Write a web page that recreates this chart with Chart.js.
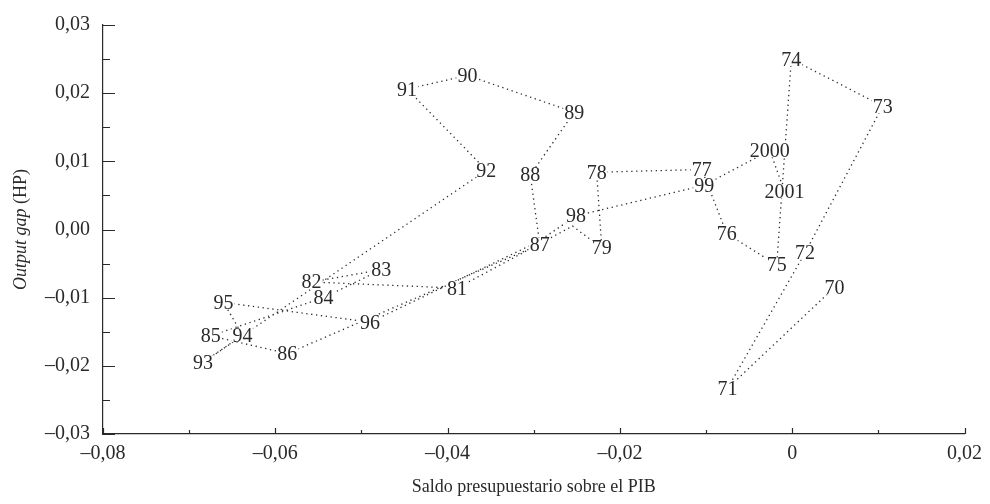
<!DOCTYPE html>
<html>
<head>
<meta charset="utf-8">
<script src="https://cdn.jsdelivr.net/npm/chart.js@4.4.0/dist/chart.umd.min.js"></script>
<style>
  html, body { margin: 0; padding: 0; background: #fff; }
  #wrap { width: 990px; height: 504px; }
</style>
</head>
<body>
<div id="wrap"><canvas id="chart" width="990" height="504"></canvas></div>
<script>
// años (80 y 97 quedan tapados por otras etiquetas en el original)
const years = ['70', '71', '72', '73', '74', '75', '76', '77', '78', '79',
               '', '81', '82', '83', '84', '85', '86', '87', '88', '89',
               '90', '91', '92', '93', '94', '95', '96', '', '98', '99',
               '2000', '2001'];
// saldo presupuestario / PIB
const saldo = [0.0049, -0.0075, 0.0015, 0.0105, -0.0001, -0.0018, -0.0076, -0.0105, -0.0227, -0.0221,
               -0.0255, -0.0389, -0.0558, -0.0477, -0.0544, -0.0675, -0.0586, -0.0293, -0.0304, -0.0253,
               -0.0377, -0.0447, -0.0355, -0.0684, -0.0638, -0.0660, -0.0490, -0.0295, -0.0251, -0.0102,
               -0.0026, -0.0009];
// output gap (HP)
const gap = [-0.0085, -0.0233, -0.0034, 0.0181, 0.0250, -0.0052, -0.0006, 0.0088, 0.0084, -0.0027,
             0.0005, -0.0086, -0.0077, -0.0059, -0.0100, -0.0156, -0.0182, -0.0022, 0.0080, 0.0172,
             0.0226, 0.0206, 0.0087, -0.0195, -0.0155, -0.0107, -0.0136, -0.0018, 0.0020, 0.0065,
             0.0116, 0.0056];

const FONT = '"Liberation Serif", "Times New Roman", serif';
const INK = '#2a2a2a';

function fmt(v, shortZero) {
    const r = Math.round(v * 1000) / 1000;
    if (r === 0 && shortZero) return '0';
    return (r < 0 ? '\u2013' : '') + Math.abs(r).toFixed(2).replace('.', ',');
}

// marcas hacia dentro de los ejes
const inwardTicks = {
    id: 'inwardTicks',
    afterDraw(chart) {
        const ctx = chart.ctx;
        const xs = chart.scales.x, ys = chart.scales.y;
        ctx.save();
        ctx.strokeStyle = INK;
        ctx.lineWidth = 1.2;
        ctx.beginPath();
        xs.ticks.forEach(t => {
            const px = Math.round(xs.getPixelForValue(t.value)) + 0.5;
            const len = Math.round(t.value * 100) % 2 === 0 ? 6 : 4;
            ctx.moveTo(px, ys.bottom);
            ctx.lineTo(px, ys.bottom - len);
        });
        ys.ticks.forEach(t => {
            const py = Math.round(ys.getPixelForValue(t.value)) + 0.5;
            const len = Math.round(t.value * 1000) % 10 === 0 ? 12 : 7;
            ctx.moveTo(xs.left, py);
            ctx.lineTo(xs.left + len, py);
        });
        ctx.stroke();
        ctx.restore();
    }
};

// etiquetas de año y títulos de ejes
const yearLabels = {
    id: 'yearLabels',
    afterDatasetsDraw(chart) {
        const ctx = chart.ctx;
        const pts = chart.getDatasetMeta(0).data;
        ctx.save();
        ctx.font = '20px ' + FONT;
        ctx.textAlign = 'center';
        ctx.textBaseline = 'alphabetic';
        ctx.fillStyle = '#fff';
        pts.forEach((p, i) => {
            if (!years[i]) return;
            const w = ctx.measureText(years[i]).width;
            ctx.fillRect(p.x - w / 2 - 1, p.y - 7, w + 2, 14);
        });
        ctx.fillStyle = INK;
        pts.forEach((p, i) => {
            if (!years[i]) return;
            ctx.fillText(years[i], p.x, p.y + 6.5);
        });

        const area = chart.chartArea;
        ctx.font = '18px ' + FONT;
        ctx.textBaseline = 'middle';
        ctx.fillText('Saldo presupuestario sobre el PIB', (area.left + area.right) / 2, 487);

        ctx.translate(21, (area.top + area.bottom) / 2);
        ctx.rotate(-Math.PI / 2);
        const a = 'Output gap', b = ' (HP)';
        ctx.font = 'italic 18px ' + FONT;
        const wa = ctx.measureText(a).width;
        ctx.font = '18px ' + FONT;
        const wb = ctx.measureText(b).width;
        ctx.textAlign = 'left';
        ctx.font = 'italic 18px ' + FONT;
        ctx.fillText(a, -(wa + wb) / 2, 0);
        ctx.font = '18px ' + FONT;
        ctx.fillText(b, -(wa + wb) / 2 + wa, 0);
        ctx.restore();
    }
};

new Chart(
    document.getElementById('chart'),
    {
        type: 'scatter',
        data: {
            datasets: [
                {
                    data: saldo.map((x, i) => ({x: x, y: gap[i]})),
                    showLine: true,
                    borderColor: INK,
                    borderWidth: 1.3,
                    borderDash: [1.3, 3.6],
                    pointRadius: 0,
                    tension: 0
                }
            ]
        },
        options: {
            responsive: false,
            animation: false,
            devicePixelRatio: 1,
            layout: { padding: { left: 0, right: 17, top: 23, bottom: 0 } },
            plugins: { legend: { display: false }, tooltip: { enabled: false } },
            scales: {
                x: {
                    type: 'linear',
                    min: -0.08,
                    max: 0.02,
                    afterFit: s => { s.height = 70; },
                    grid: { display: false, drawTicks: false },
                    border: { display: true, color: INK, width: 1.2 },
                    ticks: {
                        stepSize: 0.01,
                        autoSkip: false,
                        maxRotation: 0,
                        padding: 8,
                        color: INK,
                        font: { family: FONT, size: 20 },
                        callback: v => Math.round(v * 100) % 2 === 0 ? fmt(v, true) : ''
                    }
                },
                y: {
                    type: 'linear',
                    min: -0.03,
                    max: 0.03,
                    afterFit: s => { s.width = 103; },
                    grid: { display: false, drawTicks: false },
                    border: { display: true, color: INK, width: 1.2 },
                    ticks: {
                        stepSize: 0.005,
                        autoSkip: false,
                        padding: 13,
                        color: INK,
                        font: { family: FONT, size: 20 },
                        callback: v => Math.round(v * 1000) % 10 === 0 ? fmt(v, false) : ''
                    }
                }
            }
        },
        plugins: [inwardTicks, yearLabels]
    }
);
</script>
</body>
</html>
